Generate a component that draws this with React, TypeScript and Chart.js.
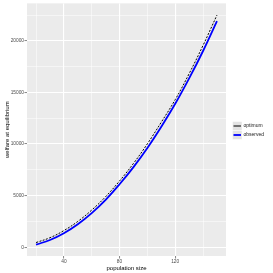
import React, { useEffect, useRef } from "react";
import { Chart, registerables } from "chart.js";

Chart.register(...registerables);

const populationSize = [20, 30, 40, 50, 60, 70, 80, 90, 100, 110, 120, 130, 140, 150];
const optimumWelfare = [450, 920, 1610, 2500, 3600, 4900, 6420, 8120, 10020, 12120, 14300, 16820, 19560, 22500];
const observedWelfare = [250, 700, 1360, 2230, 3310, 4590, 6100, 7760, 9620, 11680, 13900, 16360, 19020, 21920];
const xTicks = [20, 40, 60, 80, 100, 120, 140];
const xLabelled = [40, 80, 120];
const yTicks = [0, 2500, 5000, 7500, 10000, 12500, 15000, 17500, 20000, 22500];
const yLabelled = [0, 5000, 10000, 15000, 20000];
const seriesNames = ["optimum", "observed"];

const FONT = "'Liberation Sans', Arial, sans-serif";

const panelBg = {
  id: "panelBg",
  beforeDraw(chart: any) {
    const { ctx, chartArea } = chart;
    ctx.save();
    ctx.fillStyle = "#EBEBEB";
    ctx.fillRect(chartArea.left, chartArea.top, chartArea.right - chartArea.left, chartArea.bottom - chartArea.top);
    ctx.restore();
  },
};

const ggLegend = {
  id: "ggLegend",
  afterDraw(chart: any) {
    const { ctx } = chart;
    const x0 = 232.5;
    const y0 = 121.5;
    const kw = 9.5;
    const kh = 9;
    ctx.save();
    chart.data.datasets.forEach((ds: any, i: number) => {
      const y = y0 + i * kh;
      ctx.fillStyle = "#E3E3E3";
      ctx.fillRect(x0, y, kw, kh);
      ctx.strokeStyle = "#FFFFFF";
      ctx.lineWidth = 0.5;
      ctx.strokeRect(x0, y, kw, kh);
      ctx.beginPath();
      ctx.strokeStyle = ds.borderColor;
      ctx.lineWidth = ds.borderWidth;
      ctx.setLineDash([]);
      ctx.moveTo(x0 + 1, y + kh / 2);
      ctx.lineTo(x0 + kw - 1, y + kh / 2);
      ctx.stroke();
      ctx.fillStyle = "#1A1A1A";
      ctx.font = `5px ${FONT}`;
      ctx.textBaseline = "middle";
      ctx.textAlign = "left";
      ctx.fillText(ds.label, x0 + kw + 1.5, y + kh / 2);
    });
    ctx.restore();
  },
};

export default function App() {
  const ref = useRef<HTMLCanvasElement>(null);
  useEffect(() => {
    if (!ref.current) return;
    const chart = new Chart(ref.current, {
      type: "line",
      data: {
        datasets: [
          {
            label: seriesNames[0],
            data: populationSize.map((x, i) => ({ x, y: optimumWelfare[i] })),
            borderColor: "#000000",
            borderWidth: 1,
            borderDash: [2, 1.5],
            pointRadius: 0,
            tension: 0.4,
            order: 0,
          },
          {
            label: seriesNames[1],
            data: populationSize.map((x, i) => ({ x, y: observedWelfare[i] })),
            borderColor: "#0000FF",
            borderWidth: 1.8,
            pointRadius: 0,
            tension: 0.4,
            order: 1,
          },
        ],
      },
      options: {
        responsive: false,
        animation: false,
        layout: { padding: { left: 0, right: 47, top: 3, bottom: 0 } },
        plugins: { legend: { display: false }, tooltip: { enabled: false } },
        scales: {
          x: {
            type: "linear",
            min: 13.5,
            max: 156.5,
            afterBuildTicks: (s: any) => {
              s.ticks = xTicks.map((v) => ({ value: v }));
            },
            afterFit: (s: any) => {
              s.height = 17;
            },
            border: { display: false },
            grid: {
              color: "#FFFFFF",
              lineWidth: (c: any) => (xLabelled.includes(c.tick?.value) ? 1.1 : 0.5),
              tickColor: (c: any) => (xLabelled.includes(c.tick?.value) ? "#333333" : "rgba(0,0,0,0)"),
              tickLength: 2.5,
              tickWidth: 0.6,
            },
            ticks: {
              autoSkip: false,
              maxRotation: 0,
              padding: 0.5,
              color: "#4D4D4D",
              font: { family: FONT, size: 4.8 },
              callback: (v: any) => (xLabelled.includes(Number(v)) ? String(v) : ""),
            },
            title: {
              display: true,
              text: "population size",
              color: "#000000",
              font: { family: FONT, size: 6 },
              padding: { top: 0, bottom: 1.5 },
            },
          },
          y: {
            type: "linear",
            min: -853,
            max: 23637,
            afterBuildTicks: (s: any) => {
              s.ticks = yTicks.map((v) => ({ value: v }));
            },
            afterFit: (s: any) => {
              s.width = 27;
            },
            border: { display: false },
            grid: {
              color: "#FFFFFF",
              lineWidth: (c: any) => (yLabelled.includes(c.tick?.value) ? 1.1 : 0.5),
              tickColor: (c: any) => (yLabelled.includes(c.tick?.value) ? "#333333" : "rgba(0,0,0,0)"),
              tickLength: 2.5,
              tickWidth: 0.6,
            },
            ticks: {
              autoSkip: false,
              padding: 0.5,
              color: "#4D4D4D",
              font: { family: FONT, size: 4.8 },
              callback: (v: any) => (yLabelled.includes(Number(v)) ? String(v) : ""),
            },
            title: {
              display: true,
              text: "welfare at equilibrium",
              color: "#000000",
              font: { family: FONT, size: 6 },
              padding: { top: 4, bottom: 0 },
            },
          },
        },
      },
      plugins: [panelBg, ggLegend],
    });
    return () => chart.destroy();
  }, []);
  return (
    <div style={{ position: "absolute", left: 0, top: 0, width: 273, height: 273, background: "#FFFFFF" }}>
      <canvas ref={ref} width={273} height={273} style={{ width: 273, height: 273, display: "block" }} />
    </div>
  );
}
